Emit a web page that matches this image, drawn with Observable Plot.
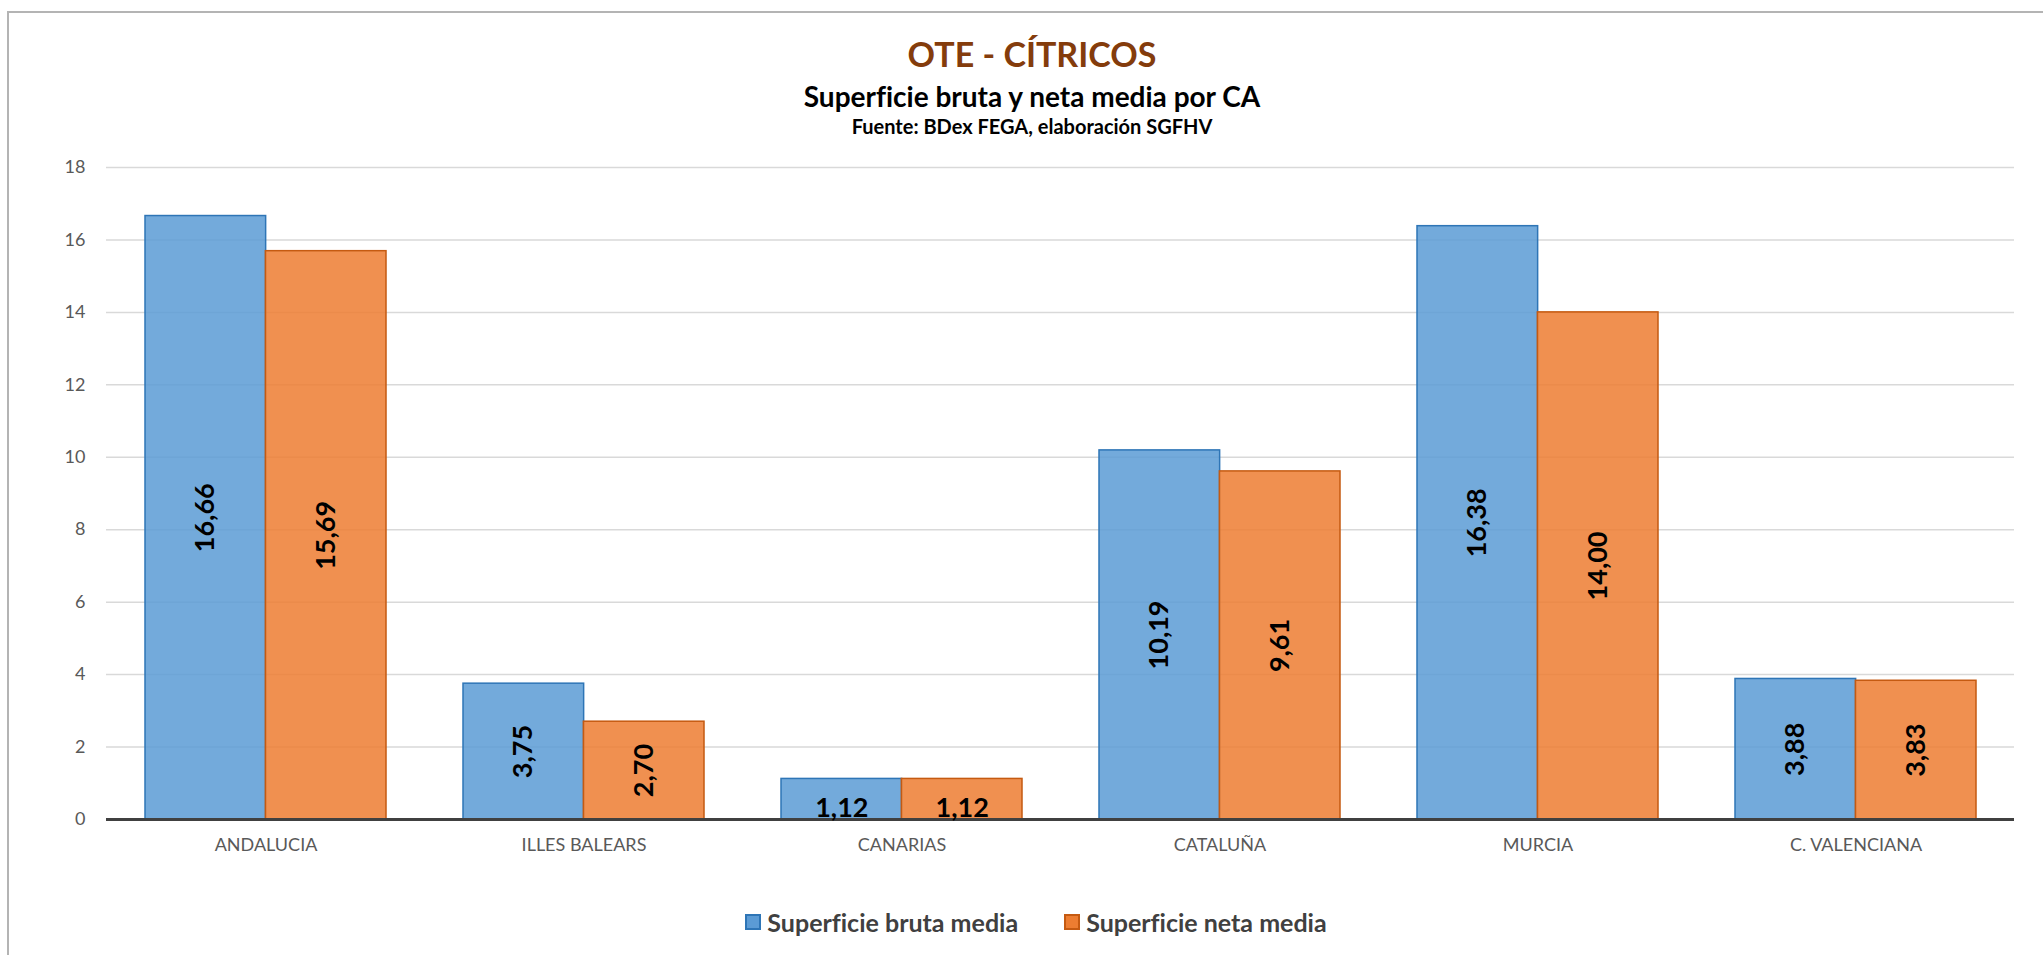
<!DOCTYPE html>
<html>
<head>
<meta charset="utf-8">
<script src="https://cdn.jsdelivr.net/npm/d3@7"></script>
<script src="https://cdn.jsdelivr.net/npm/@observablehq/plot@0.6"></script>
<style>
  html, body { margin: 0; padding: 0; background: #fff; overflow: hidden; }
  #wrap { position: relative; width: 2043px; height: 955px; overflow: hidden; font-family: Lato, "Noto Sans", sans-serif; font-variant-ligatures: none; }
  #frame { position: absolute; left: 7px; top: 11px; width: 2100px; height: 1000px; border: 2px solid #B4B4B4; box-sizing: border-box; pointer-events: none; }
  #head { position: relative; height: 140px; width: 2043px; }
  .t { position: absolute; left: 21px; right: 0; text-align: center; font-weight: 700; white-space: nowrap; line-height: 1; }
  #title { top: 37px; font-size: 34px; color: #843C0C; }
  #subtitle { top: 82px; font-size: 28px; color: #000; }
  #source { top: 116px; font-size: 20px; color: #000; }
  #chart { height: 740px; }
  #chart svg { display: block; font-variant-ligatures: none; }
  #legend { height: 75px; width: 2043px; display: flex; justify-content: center; align-items: center; padding-left: 29px; padding-top: 8px; box-sizing: border-box; }
  .item { display: flex; align-items: center; font-size: 25px; font-weight: 700; color: #404040; margin: 0 23px; }
  .sw { display: inline-block; width: 12px; height: 12px; border: 2px solid; margin-right: 6px; }
</style>
</head>
<body>
<div id="wrap">
  <div id="frame"></div>
  <div id="head">
    <div class="t" id="title">OTE - CÍTRICOS</div>
    <div class="t" id="subtitle">Superficie bruta y neta media por CA</div>
    <div class="t" id="source">Fuente: BDex FEGA, elaboración SGFHV</div>
  </div>
  <div id="chart"></div>
  <div id="legend"></div>
</div>
<script>
const categories = ["ANDALUCIA", "ILLES BALEARS", "CANARIAS", "CATALUÑA", "MURCIA", "C. VALENCIANA"];
const bruta = [16.66, 3.75, 1.12, 10.19, 16.38, 3.88];
const neta = [15.69, 2.70, 1.12, 9.61, 14.00, 3.83];
const seriesNames = ["Superficie bruta media", "Superficie neta media"];
const yTicks = [0, 2, 4, 6, 8, 10, 12, 14, 16, 18];

const colors = {
  bruta: { fill: "#5B9BD5", stroke: "#2E75B6" },
  neta: { fill: "#ED7D31", stroke: "#C55A11" }
};

const rows = categories.map((c, i) => ({ cat: c, bruta: bruta[i], neta: neta[i] }));
const fmt = v => v.toFixed(2).replace(".", ",");

const W = 2043, H = 740, ML = 106, MR = 29, MT = 27, MB = 61;
const pad = 0.243;
const step = (W - ML - MR) / categories.length;
const half = step * (1 - pad) / 2;

const labelStyle = { fontSize: 27, fontWeight: 700, fill: "#000", fontFamily: "Lato" };

function labelMarks(key, dx) {
  return [
    Plot.text(rows.filter(r => r[key] >= 2), {
      x: "cat", y: r => r[key] / 2, text: r => fmt(r[key]), rotate: -90, dx, ...labelStyle
    }),
    Plot.text(rows.filter(r => r[key] < 2), {
      x: "cat", y: r => r[key] / 2, text: r => fmt(r[key]), dx, dy: 9, ...labelStyle
    })
  ];
}

const plot = Plot.plot({
  width: W, height: H,
  marginLeft: ML, marginRight: MR, marginTop: MT, marginBottom: MB,
  style: { fontFamily: "Lato", background: "transparent" },
  x: { domain: categories, paddingInner: pad, paddingOuter: pad / 2, axis: null },
  y: { domain: [0, 18], axis: null },
  marks: [
    Plot.ruleY(yTicks.filter(d => d > 0), { stroke: "#D9D9D9", strokeWidth: 1.5 }),
    Plot.barY(rows, { x: "cat", y: "bruta", insetRight: half, fill: colors.bruta.fill, fillOpacity: 0.85, stroke: colors.bruta.stroke, strokeWidth: 1.5 }),
    Plot.barY(rows, { x: "cat", y: "neta", insetLeft: half, fill: colors.neta.fill, fillOpacity: 0.85, stroke: colors.neta.stroke, strokeWidth: 1.5 }),
    Plot.ruleY([0], { stroke: "#404040", strokeWidth: 3 }),
    ...labelMarks("bruta", -half / 2),
    ...labelMarks("neta", half / 2),
    Plot.text(yTicks, { y: d => d, frameAnchor: "left", dx: -21, textAnchor: "end", text: d => String(d), fontSize: 18, fill: "#595959" }),
    Plot.text(categories, { x: d => d, frameAnchor: "bottom", dy: 31, text: d => d, fontSize: 18, fill: "#595959" })
  ]
});
document.getElementById("chart").appendChild(plot);

const legend = document.getElementById("legend");
[["bruta", seriesNames[0]], ["neta", seriesNames[1]]].forEach(([k, name]) => {
  const it = document.createElement("div");
  it.className = "item";
  const sw = document.createElement("span");
  sw.className = "sw";
  sw.style.background = colors[k].fill;
  sw.style.borderColor = colors[k].stroke;
  it.appendChild(sw);
  const tx = document.createElement("span");
  tx.textContent = name;
  it.appendChild(tx);
  legend.appendChild(it);
});
</script>
</body>
</html>
